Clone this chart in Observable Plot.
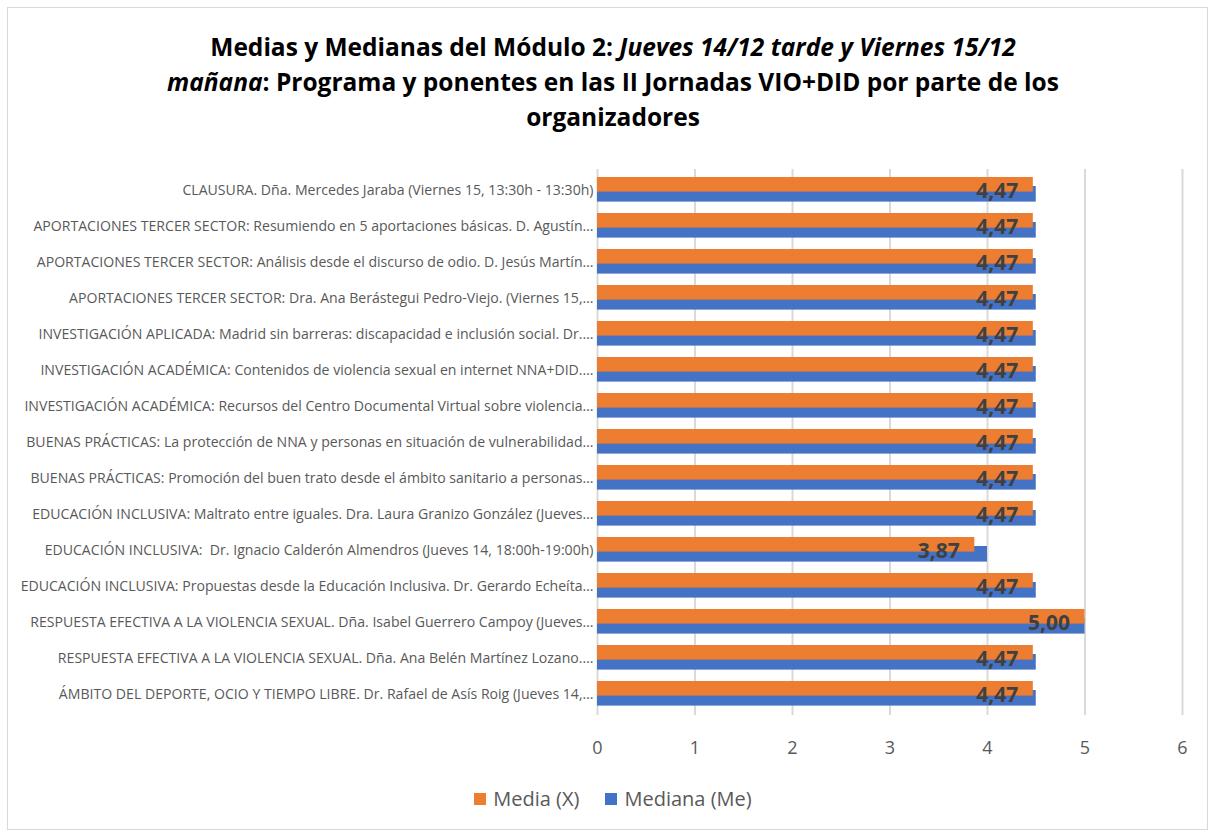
<!DOCTYPE html>
<html><head><meta charset="utf-8">
<script src="https://cdn.jsdelivr.net/npm/d3@7"></script>
<script src="https://cdn.jsdelivr.net/npm/@observablehq/plot@0.6"></script>
<style>
body{margin:0;background:#fff;font-family:"Open Sans",sans-serif;}
#frame{position:absolute;left:7px;top:7px;width:1201px;height:823px;border:1px solid #d9d9d9;box-sizing:border-box;}
#title{position:absolute;left:0;top:29px;width:1226px;text-align:center;font-weight:bold;font-size:24.5px;line-height:35px;color:#000;}
#chart{position:absolute;left:0;top:0;}
#legend{position:absolute;top:785px;left:0;width:1226px;text-align:center;font-size:20px;color:#595959;}
#legend span.sw{display:inline-block;width:12px;height:12px;margin-right:7px;vertical-align:1px;}
#legend span.it{margin:0 13px;}
</style></head>
<body>
<div id="frame"></div>
<div id="title">Medias y Medianas del Módulo 2: <i>Jueves 14/12 tarde y Viernes 15/12</i><br><i>mañana</i>: Programa y ponentes en las II Jornadas VIO+DID por parte de los<br>organizadores</div>
<div id="chart"></div>
<div id="legend"></div>
<script>
const categories = [
  "CLAUSURA. Dña. Mercedes Jaraba (Viernes 15, 13:30h - 13:30h)",
  "APORTACIONES TERCER SECTOR: Resumiendo en 5 aportaciones básicas. D. Agustín…",
  "APORTACIONES TERCER SECTOR: Análisis desde el discurso de odio. D. Jesús Martín…",
  "APORTACIONES TERCER SECTOR: Dra. Ana Berástegui Pedro-Viejo. (Viernes 15,…",
  "INVESTIGACIÓN APLICADA: Madrid sin barreras: discapacidad e inclusión social. Dr.…",
  "INVESTIGACIÓN ACADÉMICA: Contenidos de violencia sexual en internet NNA+DID.…",
  "INVESTIGACIÓN ACADÉMICA: Recursos del Centro Documental Virtual sobre violencia…",
  "BUENAS PRÁCTICAS: La protección de NNA y personas en situación de vulnerabilidad…",
  "BUENAS PRÁCTICAS: Promoción del buen trato desde el ámbito sanitario a personas…",
  "EDUCACIÓN INCLUSIVA: Maltrato entre iguales. Dra. Laura Granizo González (Jueves…",
  "EDUCACIÓN INCLUSIVA:  Dr. Ignacio Calderón Almendros (Jueves 14, 18:00h-19:00h)",
  "EDUCACIÓN INCLUSIVA: Propuestas desde la Educación Inclusiva. Dr. Gerardo Echeíta…",
  "RESPUESTA EFECTIVA A LA VIOLENCIA SEXUAL. Dña. Isabel Guerrero Campoy (Jueves…",
  "RESPUESTA EFECTIVA A LA VIOLENCIA SEXUAL. Dña. Ana Belén Martínez Lozano.…",
  "ÁMBITO DEL DEPORTE, OCIO Y TIEMPO LIBRE. Dr. Rafael de Asís Roig (Jueves 14,…"
];
const media   = [4.47,4.47,4.47,4.47,4.47,4.47,4.47,4.47,4.47,4.47,3.87,4.47,5.00,4.47,4.47];
const mediana = [4.5,4.5,4.5,4.5,4.5,4.5,4.5,4.5,4.5,4.5,4,4.5,5,4.5,4.5];
const xTicks = [0,1,2,3,4,5,6];
const seriesNames = ["Media (X)","Mediana (Me)"];
const colors = ["#ed7d31","#4472c4"];

const rows = categories.map((c,i)=>({cat:c, media:media[i], mediana:mediana[i]}));
const fmt = v => d3.format(".2f")(v).replace(".", ",");

const plot = Plot.plot({
  width: 1216, height: 770,
  marginLeft: 597, marginRight: 34, marginTop: 169, marginBottom: 55,
  style: {fontFamily: "'Open Sans', sans-serif", background: "transparent"},
  x: {domain: [0,6], ticks: xTicks, label: null},
  y: {domain: categories, label: null, padding: 0},
  marks: [
    Plot.ruleX(xTicks, {stroke: "#d9d9d9", strokeWidth: 2}),
    Plot.barX(rows, {x: "mediana", y: "cat", fill: colors[1], insetTop: 14, insetBottom: 6.4}),
    Plot.barX(rows, {x: "media", y: "cat", fill: colors[0], insetTop: 5, insetBottom: 16.4}),
    Plot.text(rows, {x: "media", y: "cat", text: d => fmt(d.media), textAnchor: "end", dx: -15, dy: 1,
      fontSize: 21, fontWeight: "bold", fill: "#404040"}),
    Plot.axisX({ticks: xTicks, tickSize: 0, tickPadding: 26, fontSize: 18, color: "#595959", tickFormat: d => String(d)}),
    Plot.axisY({tickSize: 0, tickPadding: 4, fontSize: 14.1, color: "#595959"})
  ]
});
document.getElementById("chart").appendChild(plot);

const lg = document.getElementById("legend");
seriesNames.forEach((n,i)=>{
  const s = document.createElement("span"); s.className="it";
  s.innerHTML = `<span class="sw" style="background:${colors[i]}"></span>${n}`;
  lg.appendChild(s);
});
</script>
</body></html>
